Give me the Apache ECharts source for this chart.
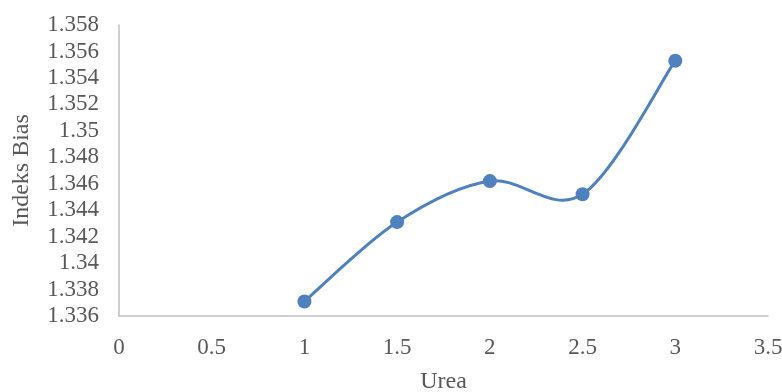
<!DOCTYPE html>
<html>
<head>
<meta charset="utf-8">
<script src="https://cdn.jsdelivr.net/npm/echarts@6/dist/echarts.min.js"></script>
<style>
  html, body { margin: 0; padding: 0; background: #fff; }
  #chart { width: 782px; height: 392px; }
</style>
</head>
<body>
<div id="chart"></div>
<script>
// Urea concentration vs. refractive index
const ureaValues = [1, 1.5, 2, 2.5, 3];
const indeksBias = [1.3371, 1.3431, 1.3462, 1.3452, 1.3553];

const chart = echarts.init(document.getElementById('chart'));
const textColor = '#595959';
const lineColor = '#4e81bd';
const fontFamily = '"Liberation Serif", "Times New Roman", serif';

const points = ureaValues.map((x, i) => [x, indeksBias[i]]);

// Catmull-Rom style cubic Bezier through the projected points
function smoothPath(pts) {
  let d = 'M' + pts[0][0] + ',' + pts[0][1];
  for (let i = 0; i < pts.length - 1; i++) {
    const p0 = pts[Math.max(i - 1, 0)];
    const p1 = pts[i];
    const p2 = pts[i + 1];
    const p3 = pts[Math.min(i + 2, pts.length - 1)];
    const c1x = p1[0] + (p2[0] - p0[0]) / 6;
    const c1y = p1[1] + (p2[1] - p0[1]) / 6;
    const c2x = p2[0] - (p3[0] - p1[0]) / 6;
    const c2y = p2[1] - (p3[1] - p1[1]) / 6;
    d += 'C' + c1x + ',' + c1y + ',' + c2x + ',' + c2y + ',' + p2[0] + ',' + p2[1];
  }
  return d;
}

chart.setOption({
  animation: false,
  grid: { left: 119, right: 14, top: 25, bottom: 76, containLabel: false, outerBoundsMode: 'none' },
  xAxis: {
    type: 'value',
    min: 0, max: 3.5, interval: 0.5,
    name: 'Urea',
    nameLocation: 'middle',
    nameGap: 54,
    nameTextStyle: { color: textColor, fontFamily, fontSize: 24 },
    axisLine: { lineStyle: { color: '#bfbfbf', width: 1.5 } },
    axisTick: { show: false },
    splitLine: { show: false },
    axisLabel: { color: textColor, fontFamily, fontSize: 23, margin: 20 }
  },
  yAxis: {
    type: 'value',
    min: 1.336, max: 1.358, interval: 0.002,
    name: 'Indeks Bias',
    nameLocation: 'middle',
    nameGap: 85,
    nameTextStyle: { color: textColor, fontFamily, fontSize: 24 },
    axisLine: { show: true, lineStyle: { color: '#bfbfbf', width: 1.5 } },
    axisTick: { show: false },
    splitLine: { show: false },
    axisLabel: {
      color: textColor, fontFamily, fontSize: 23, margin: 20,
      formatter: v => String(parseFloat(v.toFixed(3)))
    }
  },
  series: [
    {
      // smoothed connecting line, drawn once from all data points
      type: 'custom',
      coordinateSystem: 'cartesian2d',
      data: [points[0]],
      silent: true,
      z: 1,
      renderItem: (params, api) => {
        const px = points.map(p => api.coord(p));
        return {
          type: 'path',
          shape: { pathData: smoothPath(px) },
          style: { fill: 'none', stroke: lineColor, lineWidth: 3, lineCap: 'round', lineJoin: 'round' }
        };
      }
    },
    {
      type: 'scatter',
      data: points,
      symbol: 'circle',
      symbolSize: 14,
      z: 2,
      itemStyle: { color: lineColor, opacity: 1 }
    }
  ]
});
</script>
</body>
</html>
